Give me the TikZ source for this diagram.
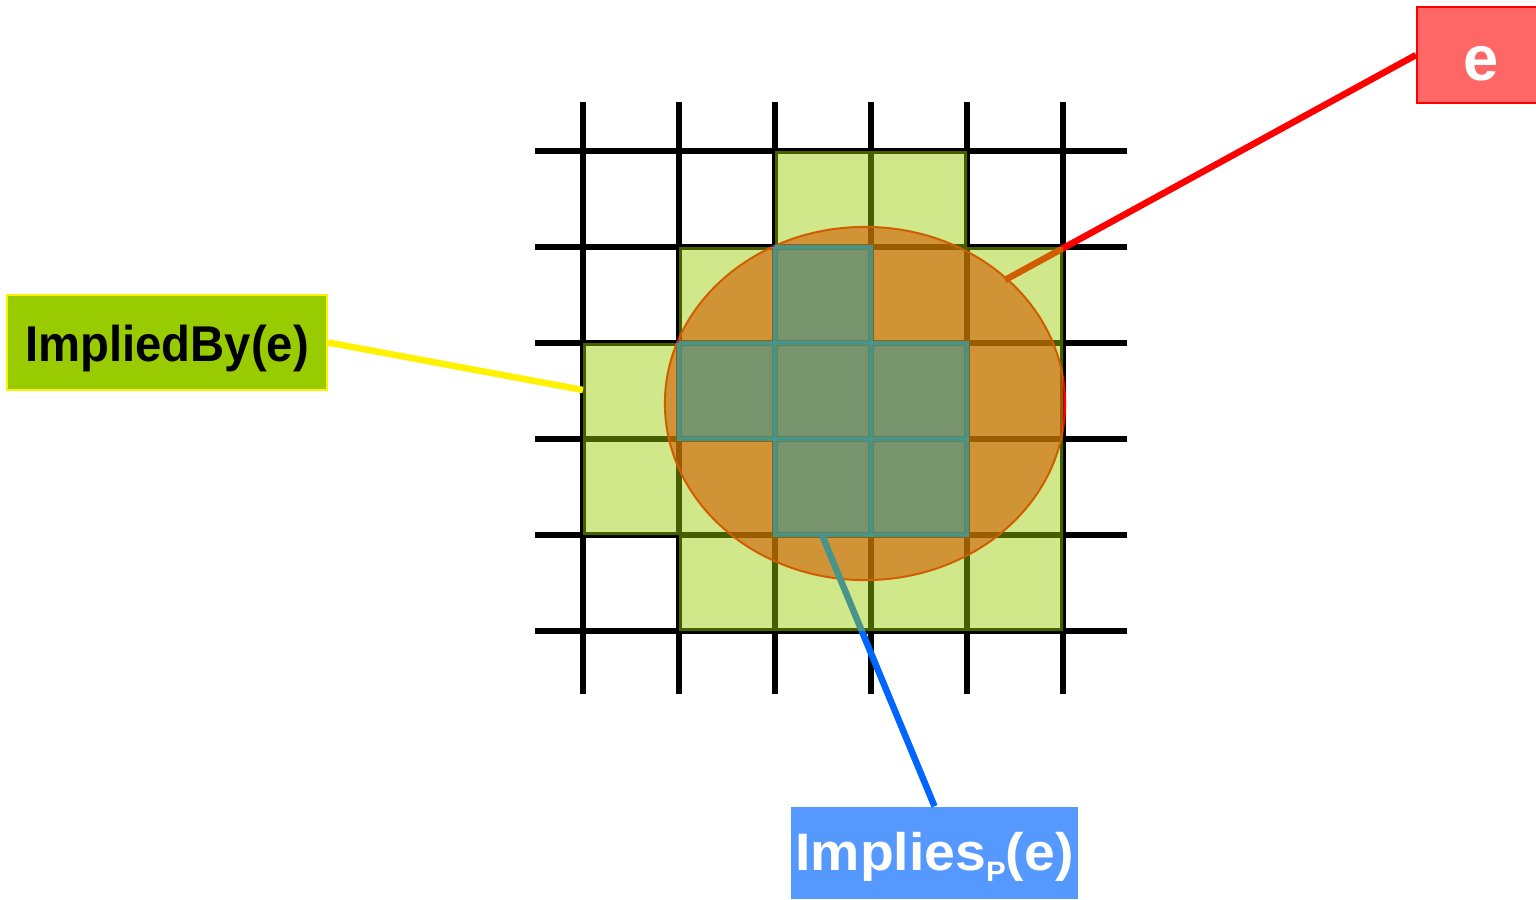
\documentclass[tikz,border=0pt]{standalone}
\usepackage{fontspec}
\setmainfont{Liberation Sans}
\usetikzlibrary{shapes.geometric}
\definecolor{cellgreen}{HTML}{99CC00}
\definecolor{ibfill}{HTML}{99CC00}
\definecolor{efill}{HTML}{FF6666}
\definecolor{impfill}{HTML}{5599FF}
\definecolor{lineblue}{HTML}{0066FF}
\begin{document}
\begin{tikzpicture}[x=0.01cm,y=-0.01cm,
  gridline/.style={black,line width=0.055cm},
  conn/.style={line width=0.065cm},
  greencells/.style={fill=cellgreen,fill opacity=0.46},
  bluecells/.style={fill=lineblue,fill opacity=0.64,draw=lineblue,line width=0.04cm},
  ibbox/.style={rectangle,fill=ibfill,draw=yellow,line width=0.02cm,inner sep=0pt,
    minimum width=3.2cm,minimum height=0.95cm,text height=0.37cm,text depth=0cm,
    font=\bfseries\fontsize{14.3pt}{17pt}\selectfont,text=black},
  ebox/.style={rectangle,fill=efill,draw=red,line width=0.02cm,inner sep=0pt,
    minimum width=1.28cm,minimum height=0.96cm,text height=0.5cm,text depth=0cm,
    font=\bfseries\fontsize{18pt}{21pt}\selectfont,text=white},
  impbox/.style={rectangle,fill=impfill,inner sep=0pt,
    minimum width=2.87cm,minimum height=0.92cm,text height=0.34cm,text depth=0cm,
    font=\bfseries\fontsize{15pt}{18pt}\selectfont,text=white},
  ellshape/.style={ellipse,inner sep=0pt,minimum width=4cm,minimum height=3.53cm,
    draw=red,fill=red,fill opacity=0.6,line width=0.02cm}
]
\useasboundingbox (0,0) rectangle (1536,900);

% grid
\foreach \x in {583,679,...,1063} \draw[gridline] (\x,102) -- (\x,694);
\foreach \y in {151,247,...,631} \draw[gridline] (535,\y) -- (1127,\y);

% ellipse e
\node[ellshape] (ell) at (865,403.5) {};

% Implies_P cells
\path[bluecells] \foreach \x/\y in {775/247,679/343,775/343,871/343,775/439,871/439}
  {(\x,\y) rectangle ++(96,96)};

% label boxes
\node[ibbox] (ib) at (167,342.5) {\scalebox{0.94}[1]{ImpliedBy(e)}};
\node[ebox] (ebox) at (1481,55) {e};
\node[impbox] (imp) at (934.5,853) {\scalebox{1.05}[1]{Implies\raisebox{-3.4pt}{\fontsize{8pt}{9pt}\selectfont P}(e)}};

% connector ends
\coordinate (ibend) at (583,390);
\coordinate (eend) at (1005,280);
\coordinate (impstart) at (822,535);

\draw[conn,yellow] (ib.east) -- (ibend);
\draw[conn,red] (ebox.west) -- (eend);
\draw[conn,lineblue] (impstart) -- (imp.north);

% ImpliedBy cells
\fill[greencells] \foreach \x/\y in {775/151,871/151,
  679/247,775/247,871/247,967/247,
  583/343,679/343,775/343,871/343,967/343,
  583/439,679/439,775/439,871/439,967/439,
  679/535,775/535,871/535,967/535}
  {(\x,\y) rectangle ++(96,96)};
\end{tikzpicture}
\end{document}
